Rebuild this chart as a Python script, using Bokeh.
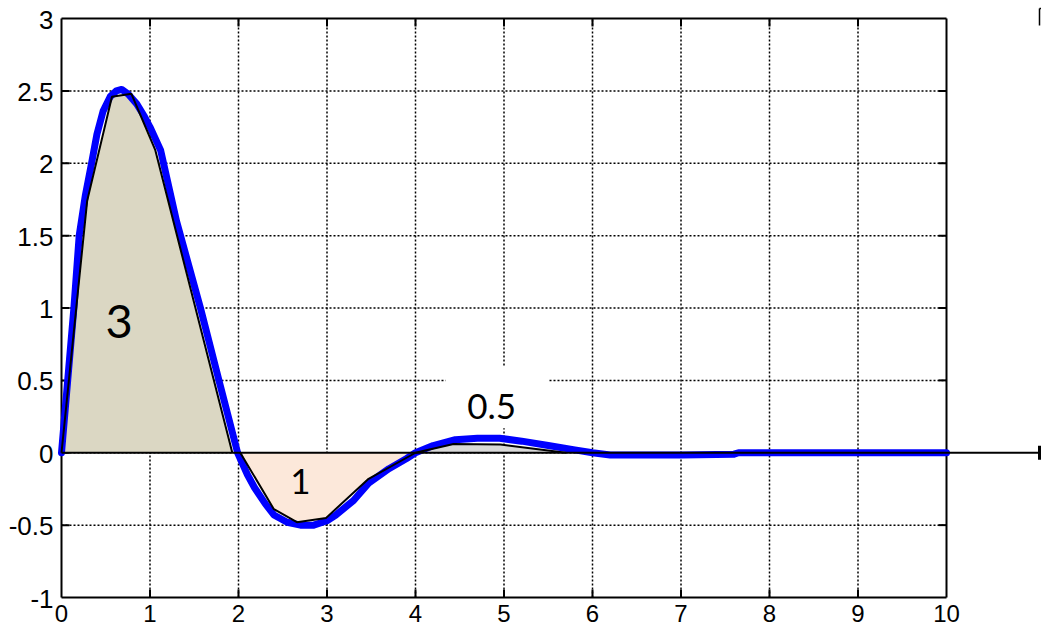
from bokeh.plotting import figure
from bokeh.models import Range1d
from bokeh.embed import file_html
from bokeh.resources import INLINE
from bokeh.core.properties import value

# ---------------- data ----------------
x_ticks = [0, 1, 2, 3, 4, 5, 6, 7, 8, 9, 10]
x_tick_labels = ["0", "1", "2", "3", "4", "5", "6", "7", "8", "9", "10"]
y_ticks = [-1, -0.5, 0, 0.5, 1, 1.5, 2, 2.5, 3]
y_tick_labels = ["-1", "-0.5", "0", "0.5", "1", "1.5", "2", "2.5", "3"]

# smooth response curve (blue)
curve_x = [0, 0.07, 0.14, 0.2, 0.27, 0.34, 0.4, 0.47, 0.55, 0.62, 0.68, 0.75, 0.85, 0.93, 1.0,
           1.12, 1.3, 1.57, 1.8, 1.99,
           2.1, 2.18, 2.3, 2.4, 2.55, 2.7, 2.85, 3.0, 3.1, 3.3, 3.47, 3.7, 3.9, 4.0,
           4.2, 4.45, 4.7, 4.95, 5.2, 5.5, 5.8, 6.0, 6.2, 7.0, 7.6, 7.65, 10]
curve_y = [0, 0.5, 1.0, 1.5, 1.78, 2.0, 2.2, 2.36, 2.46, 2.5, 2.51, 2.48, 2.41, 2.33, 2.25,
           2.09, 1.6, 1.0, 0.45, 0,
           -0.15, -0.24, -0.35, -0.43, -0.48, -0.5, -0.5, -0.47, -0.43, -0.33, -0.21, -0.11, -0.04, 0,
           0.05, 0.09, 0.1, 0.1, 0.08, 0.05, 0.02, 0, -0.015, -0.015, -0.01, 0, 0]

# polygon approximations of the lobes
lobe1_x = [0, 0.29, 0.57, 0.79, 1.06, 1.93]
lobe1_y = [0, 1.74, 2.46, 2.48, 2.09, 0]
lobe2_x = [2.02, 2.40, 2.66, 2.99, 3.47, 4.0]
lobe2_y = [0, -0.39, -0.48, -0.45, -0.18, 0]
lobe3_x = [4.0, 4.43, 4.96, 5.7]
lobe3_y = [0, 0.06, 0.057, 0]

area_labels = ["3", "1", "0.5"]
area_label_x = [0.65, 2.70, 4.86]
area_label_y = [0.91, -0.20, 0.32]
area_label_size = ["47px", "35px", "35px"]

# ---------------- layout ----------------
FIG_W, FIG_H = 1041, 630
PX_X = 88.5          # pixels per x unit
PX_Y = 144.75        # pixels per y unit
X0_PX = 61           # page x of x=0
YTOP_PX = 18         # page y of y=3
X_MAX = x_ticks[-1]
Y_MIN, Y_MAX = y_ticks[0], y_ticks[-1]
x_start = -X0_PX / PX_X
x_end = (FIG_W - X0_PX) / PX_X
y_top = Y_MAX + YTOP_PX / PX_Y
y_bot = y_top - FIG_H / PX_Y

p = figure(width=FIG_W, height=FIG_H,
           x_range=Range1d(x_start, x_end), y_range=Range1d(y_bot, y_top),
           output_backend="svg", toolbar_location=None,
           x_axis_location=None, y_axis_location=None,
           min_border=0)
p.outline_line_color = None
p.background_fill_color = "white"
p.border_fill_color = "white"
p.xgrid.grid_line_color = None
p.ygrid.grid_line_color = None

font = "Liberation Sans"

# dotted grid
gx = x_ticks[1:-1]
p.segment(x0=gx, y0=[Y_MIN] * len(gx), x1=gx, y1=[Y_MAX] * len(gx),
          line_color="black", line_width=1.5, line_dash="2 2")
gy = y_ticks[1:-1]
p.segment(x0=[0] * len(gy), y0=gy, x1=[X_MAX] * len(gy), y1=gy,
          line_color="black", line_width=1.5, line_dash="2 2")

# white background behind the "0.5" label
p.quad(left=4.34, right=5.50, bottom=0.17, top=0.60, fill_color="white", line_color=None)

# box + inward ticks on all sides
p.segment(x0=[0, 0, 0, X_MAX], y0=[Y_MIN, Y_MAX, Y_MIN, Y_MIN],
          x1=[X_MAX, X_MAX, 0, X_MAX], y1=[Y_MIN, Y_MAX, Y_MAX, Y_MAX],
          line_color="black", line_width=2)
tl_y = 8 / PX_Y
tl_x = 8 / PX_X
p.segment(x0=gx, y0=[Y_MAX] * len(gx), x1=gx, y1=[Y_MAX - tl_y] * len(gx),
          line_color="black", line_width=2)
p.segment(x0=gx, y0=[Y_MIN] * len(gx), x1=gx, y1=[Y_MIN + tl_y] * len(gx),
          line_color="black", line_width=2)
p.segment(x0=[X_MAX] * len(gy), y0=gy, x1=[X_MAX - tl_x] * len(gy), y1=gy,
          line_color="black", line_width=2)
p.segment(x0=[0] * len(gy), y0=gy, x1=[tl_x] * len(gy), y1=gy,
          line_color="black", line_width=2)

# tick labels
p.text(x=x_ticks, y=[Y_MIN] * len(x_ticks), text=x_tick_labels, y_offset=7,
       text_align="center", text_baseline="top",
       text_font=value(font), text_font_size="24px", text_color="black")
p.text(x=[0] * len(y_ticks), y=y_ticks, text=y_tick_labels, x_offset=-8, y_offset=1,
       text_align="right", text_baseline="middle",
       text_font=value(font), text_font_size="26px", text_color="black")

# lobe fills
p.patch(lobe1_x, lobe1_y, fill_color="#DBD7C3", line_color=None)
p.patch(lobe2_x, lobe2_y, fill_color="#FCE8DA", line_color=None)
p.patch(lobe3_x, lobe3_y, fill_color="#D9D9D9", line_color=None)

# blue response
p.line(curve_x, curve_y, line_color="#0000FF", line_width=7, line_join="round", line_cap="round")

# lobe outlines
for lx, ly in ((lobe1_x, lobe1_y), (lobe2_x, lobe2_y), (lobe3_x, lobe3_y)):
    p.line(lx, ly, line_color="black", line_width=2)

# extended zero axis with end bar
x_arrow = (1039 - X0_PX) / PX_X
p.segment(x0=[0], y0=[0], x1=[x_arrow], y1=[0], line_color="black", line_width=2)
p.segment(x0=[x_arrow], y0=[-7 / PX_Y], x1=[x_arrow], y1=[7 / PX_Y], line_color="black", line_width=3)

# small bracket at top right
yb_top = Y_MAX + 10 / PX_Y
p.segment(x0=[x_arrow, x_arrow], y0=[yb_top, yb_top], x1=[x_arrow, x_end], y1=[yb_top - 17 / PX_Y, yb_top],
          line_color="black", line_width=1.5)

# area labels
for t, lx, ly, fs in zip(area_labels, area_label_x, area_label_y, area_label_size):
    p.text(x=[lx], y=[ly], text=[t], text_align="center", text_baseline="middle",
           text_font=value("Lato"), text_font_size=fs, text_color="black")

open("out.html", "w").write(file_html(p, INLINE))
